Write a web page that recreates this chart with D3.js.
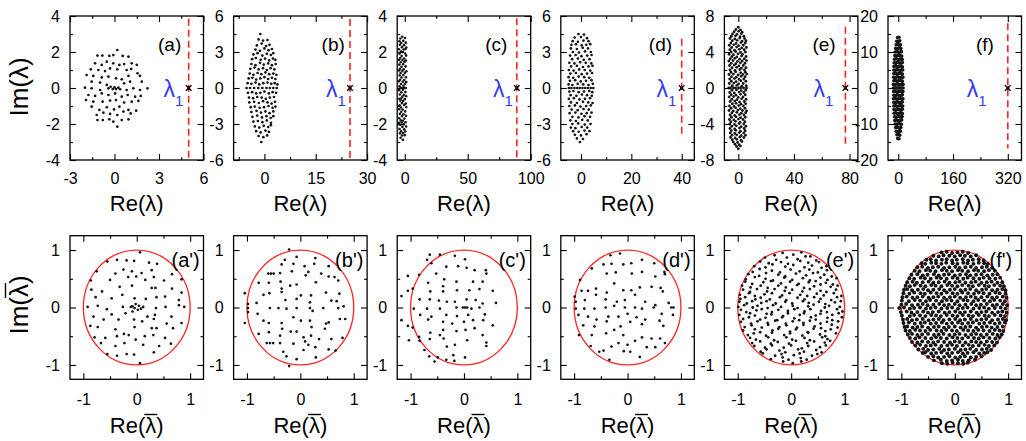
<!DOCTYPE html>
<html>
<head>
<meta charset="utf-8">
<script src="https://cdn.jsdelivr.net/npm/d3@7"></script>
<style>
  body { margin: 0; background: #fff; }
  svg text { font-family: "Liberation Sans", Arial, Helvetica, sans-serif; }
</style>
</head>
<body>
<svg id="chart" width="1026" height="441"></svg>
<script>
// ---------- eigenvalue spectra, top row: flat [Re, Im, Re, Im, ...] ----------
const eigA = [
  0.19,2.11, -1.15,1.8, -0.82,1.8, -0.35,1.78, -0.08,1.83, 0.55,1.78, 0.94,1.74,
  -1.31,1.37, -0.86,1.28, -0.52,1.46, -0.08,1.37, 0.33,1.28, 0.65,1.33, 1.16,1.37, 1.5,1.28,
  -1.6,1.04, -1.09,1.0, -0.64,0.94, -0.3,1.09, 0.19,1.04, 0.82,1.0, 1.12,1.06, 1.55,0.82,
  -1.88,0.72, -1.43,0.67, -0.86,0.59, -0.41,0.63, 0.1,0.54, 0.49,0.48, 0.94,0.67, 1.72,0.67,
  -1.54,0.35, -0.97,0.3, -0.52,0.17, 0.65,0.26, 1.05,0.35, 1.84,0.35,
  -1.99,0.02, -1.54,-0.02, -0.97,-0.11, -0.41,-0.02, -0.26,0.07, -0.12,-0.06, 0,0.04, 0.1,-0.06,
  0.26,0.02, 0.38,-0.07, 0.82,-0.11, 1.27,-0.02, 1.72,-0.11, 2.22,-0.02,
  -1.76,-0.39, -1.31,-0.44, -0.86,-0.3, -0.41,-0.39, 0.04,-0.3, 0.49,-0.48, 0.89,-0.39, 1.39,-0.48, 1.77,-0.44,
  -1.92,-0.67, -1.43,-0.76, -0.8,-0.76, -0.3,-0.7, 0.1,-0.67, 0.65,-0.81, 1.16,-0.76, 1.61,-0.72,
  -1.54,-1.04, -1.02,-1.22, -0.52,-1.07, -0.03,-1.19, 0.33,-1.04, 0.94,-1.22, 1.46,-1.26,
  -1.2,-1.5, -0.75,-1.37, -0.3,-1.44, 0.19,-1.5, 0.6,-1.31, 1.09,-1.41,
  -1.15,-1.78, -0.79,-1.78, -0.35,-1.74, -0.08,-1.87, 0.49,-1.78, 0.94,-1.74,
  0.19,-2.15
];
const eigB = [
  -1.2,4.5, -1.7,4.05, -0.4,3.95, 0.9,4.0, -2.2,3.55, -0.8,3.7, 0.5,3.5, 1.5,3.6,
  -2.6,3.2, -1.3,3.1, 0.0,3.3, 1.2,3.15, 2.2,3.25, -3.2,2.8, -2.0,2.9, -0.6,2.7, 0.7,2.85, 1.9,2.75, 2.6,2.9,
  -3.6,2.4, -2.5,2.5, -1.1,2.35, 0.2,2.45, 1.4,2.3, 2.5,2.45, 3.2,2.35,
  -3.8,2.0, -2.6,1.9, -1.3,2.1, -0.2,1.95, 1.1,2.05, 2.2,1.9, 3.3,2.0,
  -4.1,1.6, -2.9,1.7, -1.7,1.55, -0.4,1.65, 0.7,1.5, 1.8,1.65, 2.9,1.55,
  -4.3,1.2, -3.2,1.1, -2.0,1.25, -0.9,1.15, 0.3,1.3, 1.4,1.15, 2.6,1.2, 3.5,1.1,
  -4.6,0.8, -3.5,0.85, -2.4,0.7, -1.2,0.8, 0.0,0.9, 1.1,0.75, 2.2,0.85, 3.2,0.75,
  -4.9,0.4, -3.8,0.35, -2.6,0.45, -1.5,0.3, -0.3,0.4, 0.9,0.45, 2.0,0.35, 3.0,0.4, 3.8,0.3,
  -5.2,0, -4.2,0, -3.0,0, -1.8,0, -0.6,0, 0.6,0, 1.6,0, 2.6,0, 3.6,0,
  -4.8,-0.4, -3.6,-0.35, -2.4,-0.45, -1.2,-0.4, 0.0,-0.3, 1.3,-0.45, 2.4,-0.35, 3.4,-0.4,
  -4.5,-0.8, -3.3,-0.85, -2.1,-0.75, -0.8,-0.8, 0.4,-0.9, 1.6,-0.8, 2.8,-0.75,
  -4.4,-1.2, -3.0,-1.15, -1.6,-1.25, -0.4,-1.1, 0.9,-1.2, 2.1,-1.3, 3.1,-1.15,
  -4.0,-1.6, -2.8,-1.55, -1.4,-1.65, -0.1,-1.6, 1.2,-1.5, 2.4,-1.65, 3.2,-1.55,
  -3.8,-2.0, -2.3,-1.9, -1.0,-2.05, 0.3,-1.95, 1.5,-2.1, 2.6,-1.95,
  -3.5,-2.4, -2.1,-2.3, -0.7,-2.45, 0.6,-2.35, 1.8,-2.5, 2.6,-2.35,
  -3.2,-2.8, -1.9,-2.75, -0.6,-2.85, 0.7,-2.7, 1.9,-2.9,
  -2.8,-3.2, -1.5,-3.3, -0.2,-3.15, 1.1,-3.25, 1.9,-3.1, -2.4,-3.6, -1.1,-3.7, 0.3,-3.55, 1.3,-3.65,
  -1.7,-4.0, -0.3,-4.1, 0.8,-3.95, -0.9,-4.5
];
const eigC = [
  -2.0,2.85, -3.5,2.75, 0.2,2.78, -1.2,2.62, -4.2,2.6, -2.8,2.5, 0.8,2.52, -0.6,2.38, -3.9,2.4,
  -2.2,2.27, 1.2,2.25, -4.6,2.15, -0.9,2.14, 0.6,2.17, -3.0,2.02, -1.5,2.0, -4.1,1.9, 0.3,1.92,
  -2.4,1.78, 1.1,1.8, -3.6,1.66, -0.5,1.64, -1.8,1.55, 0.9,1.53, -4.5,1.56, -3.1,1.43, -0.2,1.45,
  -4.3,1.3, -1.3,1.32, -2.6,1.18, 0.7,1.2, -3.8,1.06, -0.8,1.04, -1.9,0.95, 1.3,0.93, -4.6,0.97,
  -3.3,0.83, 0.1,0.85, -4.0,0.7, -1.1,0.72, -2.5,0.58, 0.9,0.6, -3.7,0.46, -0.4,0.44, -1.6,0.35,
  1.2,0.33, -4.7,0.37, -2.9,0.22, 0.2,0.24, -4.2,0.1, -1.0,0.12, -3.3,0, -2.1,0, -0.5,0, 0.8,0,
  -4.5,-0.12, -1.5,-0.1, -2.7,-0.24, 0.5,-0.22, -3.9,-0.36, -0.7,-0.38, -1.9,-0.48, 1.1,-0.46,
  -4.3,-0.6, -2.9,-0.58, 0.0,-0.62, -1.3,-0.72, -3.5,-0.7, -2.3,-0.84, 0.8,-0.86, -4.1,-0.96,
  -0.5,-0.94, -3.0,-1.08, 1.2,-1.06, -1.7,-1.2, -4.6,-1.18, -2.8,-1.32, 0.3,-1.3, -3.9,-1.44,
  -1.0,-1.46, -2.2,-1.56, 1.0,-1.54, -4.4,-1.68, -0.3,-1.7, -3.2,-1.8, -1.5,-1.82, -2.4,-1.92,
  0.6,-1.9, -4.7,-1.94, -3.6,-2.04, -0.8,-2.02, -1.9,-2.16, 1.1,-2.14, -4.1,-2.28, -0.4,-2.3,
  -2.9,-2.4, 0.4,-2.42, -3.8,-2.52, -1.3,-2.5, -2.2,-2.64, 0.0,-2.62, -3.3,-2.76, -1.5,-2.88
];
const eigD = [
  -1.0,4.5, 1.2,4.45, -2.5,4.2, 0.0,4.25, 2.4,4.15, -3.3,3.9, -1.2,3.85, 1.0,3.95, 3.0,3.9,
  -3.8,3.6, -2.0,3.65, 0.3,3.55, 2.1,3.6, 3.7,3.65, -4.0,3.3, -1.6,3.25, 0.7,3.35, 2.8,3.3,
  -3.2,3.0, -0.8,2.95, 1.6,3.05, 3.9,3.0, -4.3,2.7, -2.1,2.75, 0.2,2.65, 2.5,2.7, 4.2,2.75,
  -3.5,2.4, -1.2,2.45, 1.1,2.35, 3.4,2.4, -4.6,2.1, -2.6,2.05, -0.3,2.15, 1.9,2.1, 4.1,2.05,
  -3.9,1.8, -1.6,1.85, 0.8,1.75, 3.0,1.8, 4.6,1.85, -4.8,1.5, -2.9,1.45, -0.7,1.55, 1.5,1.5, 3.7,1.45,
  -4.2,1.2, -2.0,1.25, 0.3,1.15, 2.4,1.2, 4.4,1.25, -4.9,0.9, -3.1,0.85, -0.9,0.95, 1.3,0.9, 3.3,0.85,
  -4.4,0.6, -2.3,0.65, -0.1,0.55, 2.0,0.6, 4.2,0.65, -4.9,0.3, -3.4,0.25, -1.3,0.35, 0.9,0.3, 3.0,0.25, 4.7,0.35,
  -4.8,0, -3.8,0, -2.6,0, -1.5,0, -0.5,0, 0.6,0, 1.7,0, 2.8,0, 3.9,0, 4.9,0,
  -4.6,-0.3, -3.0,-0.25, -0.9,-0.35, 1.2,-0.3, 3.3,-0.25, 4.5,-0.35, -4.1,-0.6, -1.8,-0.65, 0.4,-0.55, 2.4,-0.6, 4.3,-0.65,
  -4.8,-0.9, -2.8,-0.85, -0.6,-0.95, 1.6,-0.9, 3.6,-0.85, -4.0,-1.2, -1.6,-1.25, 0.8,-1.15, 2.9,-1.2, 4.6,-1.25,
  -4.6,-1.5, -2.4,-1.45, -0.2,-1.55, 2.1,-1.5, 3.9,-1.45, -3.7,-1.8, -1.3,-1.85, 1.0,-1.75, 3.1,-1.8,
  -4.5,-2.1, -2.2,-2.05, 0.2,-2.15, 2.3,-2.1, 4.2,-2.05, -3.4,-2.4, -1.0,-2.45, 1.4,-2.35, 3.6,-2.4,
  -4.2,-2.7, -2.0,-2.75, 0.5,-2.65, 2.7,-2.7, -3.4,-3.0, -1.1,-2.95, 1.5,-3.05, 3.8,-3.0,
  -4.0,-3.3, -2.2,-3.35, 0.3,-3.25, 2.5,-3.3, -3.1,-3.6, -0.9,-3.65, 1.4,-3.55, 3.4,-3.6,
  -2.4,-3.9, 0.0,-3.95, 2.2,-3.85, -1.6,-4.2, 0.8,-4.25, -0.4,-4.5
];
const eigE = [
  0.0,6.75, -1.8,6.5, 1.5,6.45, -3.0,6.25, 0.2,6.3, 2.8,6.2, -4.2,6.0, -1.0,5.95, 2.2,6.05,
  -5.0,5.75, -2.0,5.8, 1.3,5.7, 4.0,5.75, -6.0,5.5, -2.5,5.45, 1.0,5.55, 4.5,5.5,
  -4.3,5.25, -0.8,5.3, 2.7,5.2, 5.5,5.25, -5.4,5.0, -1.6,4.95, 1.9,5.05, 5.0,5.0,
  -6.5,4.75, -3.3,4.8, 0.2,4.7, 3.6,4.75, -4.8,4.5, -1.2,4.55, 2.4,4.45, 5.8,4.5,
  -6.1,4.25, -2.7,4.2, 0.7,4.3, 4.2,4.25, -5.0,4.0, -1.9,4.05, 1.6,3.95, 5.1,4.0,
  -6.6,3.75, -3.4,3.7, -0.2,3.8, 3.0,3.75, -4.6,3.5, -1.1,3.45, 2.3,3.55, 5.6,3.5,
  -5.8,3.25, -2.5,3.3, 0.9,3.2, 4.3,3.25, -6.8,3.0, -3.8,3.05, -0.6,2.95, 2.8,3.0, 5.9,3.05,
  -5.1,2.75, -1.8,2.7, 1.5,2.8, 4.8,2.75, -6.3,2.5, -2.9,2.55, 0.4,2.45, 3.6,2.5,
  -4.5,2.25, -1.2,2.3, 2.2,2.2, 5.5,2.25, -6.0,2.0, -2.4,1.95, 1.0,2.05, 4.4,2.0,
  -5.2,1.75, -1.9,1.8, 1.7,1.7, 5.0,1.75, -6.7,1.5, -3.5,1.55, -0.1,1.45, 3.2,1.5, 6.0,1.55,
  -4.9,1.25, -1.5,1.2, 2.0,1.3, 4.9,1.25, -6.2,1.0, -2.8,1.05, 0.6,0.95, 3.9,1.0,
  -5.0,0.75, -1.6,0.7, 1.8,0.8, 5.4,0.75, -6.5,0.5, -3.2,0.55, 0.2,0.45, 3.5,0.5,
  -4.4,0.25, -1.0,0.3, 2.5,0.2, 5.7,0.25,
  -6.9,0, -5.6,0, -3.5,0, -2.0,0, 0.1,0, 1.6,0, 3.8,0, 5.9,0,
  -4.6,-0.25, -1.3,-0.2, 2.1,-0.3, 5.3,-0.25, -6.2,-0.5, -2.9,-0.55, 0.6,-0.45, 3.9,-0.5,
  -5.1,-0.75, -1.7,-0.8, 1.6,-0.7, 5.0,-0.75, -6.6,-1.0, -3.4,-0.95, 0.0,-1.05, 3.4,-1.0,
  -4.7,-1.25, -1.0,-1.3, 2.4,-1.2, 5.6,-1.25, -5.9,-1.5, -2.6,-1.45, 0.9,-1.55, 4.3,-1.5,
  -4.3,-1.75, -1.6,-1.7, 1.9,-1.8, 5.2,-1.75, -6.4,-2.0, -3.1,-2.05, 0.3,-1.95, 3.6,-2.0,
  -5.2,-2.25, -1.9,-2.2, 1.4,-2.3, 4.8,-2.25, -6.7,-2.5, -3.6,-2.55, -0.3,-2.45, 3.0,-2.5, 5.9,-2.55,
  -4.6,-2.75, -1.1,-2.7, 2.2,-2.8, 5.3,-2.75, -5.9,-3.0, -2.6,-3.05, 0.8,-2.95, 4.1,-3.0,
  -4.9,-3.25, -1.6,-3.2, 1.7,-3.3, 5.0,-3.25, -6.4,-3.5, -3.2,-3.55, 0.1,-3.45, 3.4,-3.5,
  -5.3,-3.75, -2.0,-3.7, 1.3,-3.8, 4.7,-3.75, -6.1,-4.0, -2.8,-4.05, 0.6,-3.95, 3.9,-4.0,
  -4.7,-4.25, -1.4,-4.2, 2.1,-4.3, 5.4,-4.25, -6.0,-4.5, -2.6,-4.55, 0.8,-4.45, 4.2,-4.5,
  -5.0,-4.75, -1.8,-4.7, 1.6,-4.8, 4.9,-4.75, -5.8,-5.0, -2.6,-5.05, 0.7,-4.95, 3.9,-5.0,
  -4.5,-5.25, -1.2,-5.2, 2.1,-5.3, 5.2,-5.25, -5.6,-5.5, -2.3,-5.55, 1.0,-5.45, 4.0,-5.5,
  -4.3,-5.75, -1.1,-5.7, 2.0,-5.8, -3.6,-6.0, -0.5,-6.05, 2.6,-5.95,
  -2.4,-6.25, 0.6,-6.3, -1.3,-6.5, 1.5,-6.45, 0.0,-6.75
];
const eigF = [
  -2,14, 2,14.1, -4.5,13, 0,12.9, 4.5,13.1, -6,12, -1.5,12.1, 3,11.9, 6.5,12,
  -7.5,11, -2.5,10.9, 2.5,11.1, 7.5,11, -9,10, -4,10.1, 1,9.9, 6,10, 9,10.1,
  -10,9, -5,8.9, 0,9.1, 5,9, 10,8.9, -11,8, -6,8.1, -1,7.9, 4,8, 9,8.1, 11.5,7.9,
  -12,7, -7,6.9, -2,7.1, 3,7, 8,6.9, 12,7.1, -12.5,6, -8,6.1, -3,5.9, 2,6, 7,6.1, 12,5.9,
  -13,5, -9,4.9, -4,5.1, 1,5, 6,4.9, 11,5.1, 13,5, -13,4, -8,4.1, -3,3.9, 2,4, 7,4.1, 12,3.9,
  -13.5,3, -9,2.9, -4,3.1, 1,3, 6,2.9, 11,3.1, 13.5,3, -13,2, -8,2.1, -3,1.9, 2,2, 7,2.1, 12,1.9,
  -14,1, -9.5,0.9, -4.5,1.1, 0.5,1, 5.5,0.9, 10.5,1.1, 14,1,
  -14,0, -10,0, -6,0, -2,0, 2,0, 6,0, 10,0, 14,0,
  -13.5,-1, -9,-0.9, -4,-1.1, 1,-1, 6,-0.9, 11,-1.1, 13.5,-1, -13,-2, -8,-2.1, -3,-1.9, 2,-2, 7,-2.1, 12,-1.9,
  -14,-3, -9.5,-2.9, -4.5,-3.1, 0.5,-3, 5.5,-2.9, 10.5,-3.1, 13.5,-3, -13,-4, -8,-4.1, -3,-3.9, 2,-4, 7,-4.1, 12,-3.9,
  -13,-5, -9,-4.9, -4,-5.1, 1,-5, 6,-4.9, 11,-5.1, 13,-5, -12.5,-6, -7.5,-6.1, -2.5,-5.9, 2.5,-6, 7.5,-6.1, 12,-5.9,
  -12,-7, -7,-6.9, -2,-7.1, 3,-7, 8,-6.9, 12,-7.1, -11,-8, -6,-8.1, -1,-7.9, 4,-8, 9,-8.1, 11,-7.9,
  -10,-9, -5,-8.9, 0,-9.1, 5,-9, 10,-8.9, -9,-10, -4,-10.1, 1,-9.9, 6,-10, 9,-10.1,
  -7.5,-11, -2.5,-10.9, 2.5,-11.1, 7.5,-11, -6,-12, -1,-12.1, 4,-11.9, 6,-12,
  -4,-13, 0.5,-12.9, 4.5,-13.1, -1.5,-14, 2,-14.1
];

// outlier eigenvalue λ1 of each matrix, and vertical extent of its marker line
const lambda1 = [5, 25, 89, 40, 77, 320];
const lambda1Span = [[-4, 3.85], [-6, 5.75], [-4, 3.87], [-4.1, 4.1], [-6.5, 6.8], [-16.8, 18]];

// ---------- rescaled spectra, bottom row: flat [Re, Im, ...] in units of 0.01 ----------
const eigBarA = [
  6,96, -55,80, -37,83, -19,82, -5,81, 23,78, 38,76,
  -75,63, -40,59, -25,66, -9,63, 9,60, 28,65, 66,58,
  -86,47, -50,48, -16,53, -1,54, 16,48, 32,53, 51,47, 84,49,
  -85,31, -65,28, -32,36, -9,38, 28,34, 35,34, 66,33, 84,26,
  -77,18, -47,16, -27,22, -4,16, 17,15, 37,18, 53,19, 79,13,
  -92,1, -73,3, -56,-3, -26,1, -11,1, -4,-1, 4,3, 12,1, 36,-1, 54,1, 79,4, 89,1,
  -2,6, 2,-4, 8,-2, -8,2,
  -81,-16, -47,-12, -21,-10, -8,-7, 20,-16, 34,-13, 65,-16,
  -87,-32, -62,-21, -34,-21, -5,-21, 10,-24, 32,-20, 56,-28, 84,-27,
  -73,-34, -40,-38, -24,-46, -4,-34, 28,-36, 37,-36, 68,-36,
  -79,-52, -59,-53, -37,-50, -15,-48, 15,-50, 31,-48, 53,-53,
  -67,-62, -40,-67, -23,-62, -2,-56, 12,-65, 42,-67, 64,-63,
  -55,-81, -37,-84, -19,-81, -5,-82, 32,-78, 6,-97
];
const eigBarB = [
  -21,101, -29,83, -7,88, 28,86, -35,75, -13,76, 8,72, 26,76, 53,72,
  -60,59, -55,59, -50,59, -38,60, -16,63, 15,62, 10,56, 39,59, 64,53, 53,54,
  -78,43, -59,43, -37,45, -19,38, -7,40, 29,44, 71,47, -35,33,
  -69,22, -58,25, -35,27, 1,21, 20,21, 48,26, 73,24, -104,25,
  -82,8, -28,13, -7,15, 18,9, 58,12, 68,11,
  -98,6, -98,-1, -98,-8, -80,-11, -57,-1, -41,-1, -26,-2, -7,-1, 18,-1, 23,-6, 43,-1, 71,-1, 81,2, 84,-20,
  -104,-27, -69,-23, -59,-27, -35,-27, -13,-17, 1,-23, 18,-23, 48,-28, 53,-26, 74,-20,
  -34,-37, -18,-42, -7,-42, 21,-34, 46,-37,
  -78,-46, -59,-43, -38,-49, 6,-52, 20,-49, 35,-55, 58,-55, 79,-53,
  -63,-62, -57,-62, -51,-62, -38,-62, -13,-63, 9,-59, 15,-65, 53,-73, 66,-75,
  -32,-77, 6,-74, 28,-69, -26,-85, -7,-90, 29,-87, -21,-102
];
const eigBarC = [
  -64,92, -45,92, -17,90, 2,84, -69,83, -61,77, -33,71, -11,72, 5,69, 20,65, 41,65, 42,59,
  -105,55, -84,57, -52,59, -37,49, -14,45, 17,45, 35,45, -67,43,
  -96,33, -105,29, -117,20, -39,37, -39,28, -63,28, -13,30, 10,30, 29,32, 54,29,
  -83,14, -64,14, -47,12, -32,10, -17,10, 5,14, 22,13, 35,7, 60,8,
  -2,0, 2,0, 6,0, -94,-2, -69,-2, -45,-2, -14,0, 14,-2, 29,0,
  -82,-13, -61,-16, -33,-13, -13,-15, 8,-13, 39,-12,
  -117,-22, -105,-32, -96,-35, -67,-21, -39,-25, -22,-28, 0,-25, 17,-22, 36,-22, 54,-31,
  -63,-44, -39,-39, -14,-41, 3,-39, 20,-36, 35,-48,
  -84,-51, -103,-57, -83,-58, -64,-55, -45,-48, -38,-54, -17,-65, 6,-57, 42,-61, 42,-67,
  -32,-68, -65,-85, -49,-87, -20,-83, 2,-87, -55,-94, -33,-91, -18,-93, -74,-74
];
const eigBarD = [
  -32,91, -14,94, -45,75, -30,76, -8,75, 7,77, 27,83, 50,77, 69,62, 70,58,
  -89,48, -67,68, -39,59, -22,61, 8,59, 27,62, 52,54,
  -86,29, -74,29, -59,33, -39,26, -25,42, -8,30, 7,30, 23,35, 45,36, 62,34, 66,28,
  -99,19, -97,10, -80,13, -59,22, -41,14, -20,10, -5,13, 14,22, 33,10, 52,4, 77,8,
  -97,-2, -81,-2, -62,-2, -41,0, -25,3, -5,0, 14,0, 27,-2, 49,0, 82,0, 86,0,
  -92,-13, -74,-16, -58,-21, -36,-16, -17,-16, 0,-11, 17,-17, 33,-21, 64,-11, 85,-13,
  -83,-31, -62,-33, -39,-24, -25,-39, -13,-33, 5,-25, 27,-29, 60,-23, 67,-32,
  -91,-48, -67,-48, -40,-45, -8,-48, 27,-52, 45,-54, 61,-54, 70,-62,
  -69,-67, -45,-75, -30,-68, -17,-62, 0,-65, 14,-58, 36,-69, 52,-69,
  -34,-91, -7,-76, 5,-77, 23,-86, -53,-77
];
const eigBarE = [
  -31,91, -16,95, 4,92, 19,96, 36,89, -49,87, -28,83, -8,87, 12,84, 27,89, 47,82,
  -58,80, -42,77, -19,79, -6,76, 17,81, 32,78, 52,79, 66,72,
  -69,72, -48,70, -35,75, -11,71, 4,74, 25,70, 39,73, 57,69,
  -72,62, -59,67, -36,64, -21,61, -1,66, 16,63, 34,66, 50,61, 67,65,
  -80,58, -60,55, -47,60, -24,57, -11,54, 9,59, 28,56, 41,60, 62,57, 76,54,
  -85,49, -68,53, -48,50, -34,47, -13,52, 2,48, 22,51, 35,47, 55,52, 68,48, 85,51,
  -86,45, -73,41, -52,44, -38,46, -19,42, -2,45, 14,41, 33,44, 46,46, 65,43, 78,40,
  -92,38, -76,35, -57,38, -44,34, -24,38, -10,35, 11,39, 24,34, 43,37, 55,40, 74,36, 87,38,
  -90,31, -77,27, -64,32, -45,28, -31,32, -12,29, 2,31, 21,28, 35,32, 55,29, 66,27, 84,31,
  -96,22, -79,25, -68,20, -50,23, -36,25, -17,21, -3,25, 17,22, 30,20, 48,24, 61,21, 80,25, 94,20,
  -95,15, -86,18, -67,14, -57,17, -40,14, -21,18, -9,13, 12,17, 25,14, 43,18, 55,15, 75,13, 86,18,
  -97,10, -83,7, -73,11, -56,8, -46,11, -29,7, -11,10, 2,7, 22,11, 33,8, 52,10, 64,6, 82,9, 93,11,
  -99,1, -88,4, -72,0, -63,3, -44,-1, -34,4, -19,1, 3,3, 12,-1, 32,2, 42,5, 63,0, 71,3, 91,1,
  -94,-4, -84,-8, -65,-5, -55,-3, -36,-8, -24,-4, -6,-6, 6,-3, 25,-7, 36,-3, 56,-6, 67,-8, 86,-3, 96,-7,
  -97,-13, -77,-10, -68,-14, -46,-11, -37,-12, -15,-15, -6,-10, 16,-13, 24,-10, 46,-14, 55,-11, 77,-13, 89,-10,
  -90,-20, -79,-17, -58,-21, -48,-18, -26,-22, -17,-17, 6,-19, 15,-22, 37,-17, 46,-21, 68,-18, 77,-22, 95,-17,
  -94,-25, -75,-28, -63,-24, -44,-27, -30,-23, -10,-28, 3,-24, 23,-27, 35,-23, 55,-28, 67,-25, 88,-24,
  -87,-34, -74,-31, -55,-35, -43,-30, -22,-34, -9,-31, 11,-35, 23,-30, 44,-33, 56,-36, 76,-30, 87,-35,
  -90,-40, -68,-38, -58,-43, -35,-40, -24,-37, -2,-42, 9,-38, 31,-43, 42,-37, 64,-41, 74,-38,
  -81,-48, -70,-45, -47,-49, -36,-44, -13,-48, -2,-45, 21,-49, 32,-44, 54,-47, 64,-50, 84,-45,
  -77,-53, -66,-56, -43,-52, -32,-57, -9,-52, 2,-56, 25,-53, 35,-57, 58,-52, 68,-55,
  -73,-62, -58,-59, -38,-63, -25,-60, -4,-63, 9,-58, 30,-62, 43,-59, 63,-61, 73,-58,
  -69,-67, -49,-70, -36,-66, -14,-70, 0,-66, 20,-71, 32,-67, 54,-69, 65,-66,
  -57,-77, -46,-73, -22,-75, -11,-78, 13,-73, 24,-77, 47,-74, 57,-78,
  -53,-80, -30,-84, -18,-81, 5,-83, 16,-80, 39,-84, 49,-81,
  -38,-90, -16,-87, -5,-91, 18,-88, 29,-91, -15,-94, 3,-97, 19,-94
];
const eigBarF = [
  -25,96, -15,97, -5,95, 5,96, 15,97, 25,95,
  -40,90, -30,89, -21,91, -10,90, 0,89, 10,91, 19,90, 30,89, 40,91,
  -53,83, -45,84, -35,82, -24,83, -15,84, -5,82, 4,83, 15,84, 25,82, 34,83, 45,84, 54,82,
  -62,77, -55,76, -44,78, -35,77, -25,76, -16,78, -4,77, 5,76, 16,78, 24,77, 35,76, 45,78, 55,77, 62,76,
  -70,70, -61,71, -50,69, -41,70, -31,71, -20,69, -10,70, 1,71, 9,69, 20,70, 30,71, 40,69, 51,70, 60,71, 70,69,
  -75,64, -66,63, -54,65, -46,64, -36,63, -24,65, -15,64, -5,63, 6,65, 14,64, 25,63, 36,65, 44,64, 55,63, 64,65, 75,64,
  -81,57, -70,58, -60,56, -51,57, -39,58, -30,56, -20,57, -11,58, 0,56, 10,57, 21,58, 29,56, 40,57, 50,58, 61,56, 71,57, 80,58,
  -85,51, -76,50, -64,52, -56,51, -45,50, -34,52, -26,51, -15,50, -4,52, 5,51, 16,50, 24,52, 35,51, 46,50, 54,52, 65,51, 76,50, 85,52,
  -89,44, -79,45, -71,43, -60,44, -49,45, -40,43, -30,44, -19,45, -10,43, 1,44, 9,45, 20,43, 31,44, 39,45, 50,43, 60,44, 69,45, 80,43, 89,44,
  -92,38, -84,37, -75,39, -64,38, -55,37, -44,39, -36,38, -25,37, -14,39, -5,38, 5,37, 14,39, 26,38, 34,37, 45,39, 56,38, 64,37, 74,39, 85,38, 92,37,
  -95,31, -89,32, -80,30, -69,31, -59,32, -50,30, -40,31, -29,32, -20,30, -9,31, 0,32, 11,30, 20,31, 29,32, 40,30, 51,31, 59,32, 70,30, 80,31, 89,32, 95,30,
  -96,25, -85,24, -76,26, -64,25, -56,24, -45,26, -34,25, -25,24, -15,26, -4,25, 5,24, 14,26, 25,25, 36,24, 45,26, 54,25, 65,24, 76,26, 84,25, 95,24,
  -98,18, -90,19, -79,17, -70,18, -60,19, -49,17, -40,18, -31,19, -20,17, -9,18, 0,19, 10,17, 21,18, 30,19, 39,17, 50,18, 61,19, 70,17, 79,18, 90,19, 97,17,
  -99,12, -86,11, -75,13, -65,12, -54,11, -46,13, -35,12, -24,11, -15,13, -6,12, 5,11, 16,13, 24,12, 35,11, 44,13, 55,12, 66,11, 74,13, 85,12, 94,11,
  -100,5, -91,6, -80,4, -69,5, -60,6, -51,4, -40,5, -29,6, -20,4, -11,5, 0,6, 9,4, 20,5, 31,6, 40,4, 49,5, 60,6, 71,4, 79,5, 90,6, 98,4,
  -104,-1, -95,0, -84,-2, -76,-1, -65,0, -54,-2, -45,-1, -36,0, -25,-2, -14,-1, -5,0, 6,-2, 15,-1, 24,0, 35,-2, 46,-1, 55,0, 64,-2, 75,-1, 86,0, 95,-2,
  -101,-8, -90,-7, -81,-9, -70,-8, -59,-7, -50,-9, -41,-8, -30,-7, -19,-9, -10,-8, 1,-7, 10,-9, 19,-8, 30,-7, 41,-9, 50,-8, 59,-7, 70,-9, 81,-8, 89,-7, 97,-9,
  -99,-14, -84,-15, -76,-13, -65,-14, -55,-15, -44,-13, -35,-14, -26,-15, -15,-13, -4,-14, 5,-15, 15,-13, 26,-14, 34,-15, 45,-13, 56,-14, 64,-15, 75,-13, 86,-14, 94,-15,
  -97,-21, -89,-20, -80,-22, -71,-21, -60,-20, -49,-22, -40,-21, -30,-20, -21,-22, -10,-21, 1,-20, 10,-22, 19,-21, 30,-20, 41,-22, 50,-21, 59,-20, 70,-22, 81,-21, 90,-20, 96,-22,
  -96,-27, -86,-26, -75,-28, -64,-27, -56,-26, -45,-28, -35,-27, -24,-26, -15,-28, -5,-27, 6,-26, 14,-28, 25,-27, 34,-26, 46,-28, 55,-27, 66,-26, 75,-28, 84,-27, 94,-26,
  -94,-34, -89,-33, -79,-35, -70,-34, -61,-33, -50,-35, -39,-34, -30,-33, -20,-35, -11,-34, 0,-33, 11,-35, 20,-34, 29,-33, 40,-35, 51,-34, 60,-33, 69,-35, 80,-34, 90,-33,
  -92,-40, -84,-41, -74,-39, -65,-40, -55,-41, -46,-39, -34,-40, -25,-41, -16,-39, -5,-40, 4,-41, 16,-39, 25,-40, 35,-41, 44,-39, 54,-40, 65,-41, 75,-39, 84,-40, 91,-41,
  -88,-47, -80,-46, -70,-48, -61,-47, -50,-46, -39,-48, -30,-47, -21,-46, -10,-48, 0,-47, 9,-46, 20,-48, 31,-47, 40,-46, 49,-48, 60,-47, 71,-46, 80,-48, 88,-47,
  -84,-53, -74,-54, -66,-52, -55,-53, -44,-54, -35,-52, -26,-53, -15,-54, -4,-52, 5,-53, 14,-54, 25,-52, 36,-53, 45,-54, 54,-52, 65,-53, 76,-54, 84,-52,
  -80,-60, -70,-61, -61,-59, -50,-60, -40,-61, -31,-59, -20,-60, -9,-61, 0,-59, 9,-60, 20,-61, 31,-59, 40,-60, 49,-61, 60,-59, 70,-60, 79,-61,
  -74,-66, -65,-65, -54,-67, -45,-66, -36,-65, -25,-67, -14,-66, -5,-65, 4,-67, 15,-66, 26,-65, 34,-67, 45,-66, 56,-65, 64,-67, 74,-66,
  -68,-73, -59,-72, -50,-74, -40,-73, -29,-72, -20,-74, -11,-73, 0,-72, 11,-74, 20,-73, 29,-72, 40,-74, 51,-73, 60,-72, 68,-74,
  -60,-79, -55,-78, -44,-80, -35,-79, -25,-78, -14,-80, -5,-79, 6,-78, 15,-80, 24,-79, 35,-78, 46,-80, 55,-79, 61,-78,
  -50,-86, -40,-85, -31,-87, -20,-86, -10,-85, 1,-87, 10,-86, 19,-85, 30,-87, 40,-86, 50,-85,
  -39,-92, -26,-91, -15,-93, -5,-92, 6,-91, 15,-93, 26,-92, 38,-91,
  -24,-97, -14,-98, -4,-96, 6,-97, 16,-98, 24,-96
];

// ---------- axes ----------
const topXDomain = [[-3, 6], [-9, 30], [-6, 100], [-8, 45], [-10, 86], [-30, 360]];
const topYDomain = [[-4, 4], [-6, 6], [-4, 4], [-6, 6], [-8, 8], [-20, 20]];
const topXMajor = [[-3, 0, 3, 6], [0, 15, 30], [0, 50, 100], [0, 20, 40], [0, 40, 80], [0, 160, 320]];
const topXMinor = [[-1.5, 1.5, 4.5], [-7.5, 7.5, 22.5], [25, 75], [10, 30], [20, 60], [80, 240]];
const topYMajor = [[-4, -2, 0, 2, 4], [-6, -3, 0, 3, 6], [-4, -2, 0, 2, 4], [-6, -3, 0, 3, 6], [-8, -4, 0, 4, 8], [-20, -10, 0, 10, 20]];
const topYMinor = [[-3, -1, 1, 3], [-4.5, -1.5, 1.5, 4.5], [-3, -1, 1, 3], [-4.5, -1.5, 1.5, 4.5], [-6, -2, 2, 6], [-15, -5, 5, 15]];
const barDomain = [-1.25, 1.25];
const barMajor = [-1, 0, 1];
const barMinor = [-0.5, 0.5];

const topTags = ["(a)", "(b)", "(c)", "(d)", "(e)", "(f)"];
const barTags = ["(a')", "(b')", "(c')", "(d')", "(e')", "(f')"];

// ---------- layout ----------
const colX0 = 70, colStep = 163.6, panelW = 133.5;
const topY = 16, topH = 144;
const botY = 235.7, botH = 143.6;
const lambdaLabelX = [3.3, 18, 70, 30, 54, 200];   // data x where the λ1 label starts
const dotR = [1.35, 1.35, 1.3, 1.35, 1.4, 1.8];
const barDotR = [1.35, 1.35, 1.35, 1.35, 1.4, 1.95];
const FONT = '"Liberation Sans", Arial, Helvetica, sans-serif';
const RED = "#ff2222";
const BLUE = "#3838f0";

const topData = [eigA, eigB, eigC, eigD, eigE, eigF];
const barData = [eigBarA, eigBarB, eigBarC, eigBarD, eigBarE, eigBarF];

function toPoints(flat, unit) {
  const pts = [];
  for (let i = 0; i < flat.length; i += 2) pts.push([flat[i] * unit, flat[i + 1] * unit]);
  return pts;
}

const fmt = d => String(d);
const svg = d3.select("#chart");

function drawAxes(g, x, y, w, h, o) {
  const style = sel => {
    sel.select(".domain").remove();
    sel.selectAll("line").attr("stroke", "#000").attr("stroke-width", 1.1);
    sel.selectAll("text").attr("font-size", 16).attr("font-family", FONT).attr("fill", "#000");
  };
  g.append("g").attr("transform", `translate(0,${h})`)
    .call(d3.axisBottom(x).tickValues(o.xMajor).tickSize(-6).tickPadding(o.xPad).tickFormat(fmt)).call(style);
  g.append("g").attr("transform", `translate(0,${h})`)
    .call(d3.axisBottom(x).tickValues(o.xMinor).tickSize(-3).tickFormat("")).call(style);
  g.append("g").call(d3.axisTop(x).tickValues(o.xMajor).tickSize(-6).tickFormat("")).call(style);
  g.append("g").call(d3.axisTop(x).tickValues(o.xMinor).tickSize(-3).tickFormat("")).call(style);
  g.append("g")
    .call(d3.axisLeft(y).tickValues(o.yMajor).tickSize(-6).tickPadding(10).tickFormat(fmt)).call(style);
  g.append("g").call(d3.axisLeft(y).tickValues(o.yMinor).tickSize(-3).tickFormat("")).call(style);
  g.append("g").attr("transform", `translate(${w},0)`)
    .call(d3.axisRight(y).tickValues(o.yMajor).tickSize(-6).tickFormat("")).call(style);
  g.append("g").attr("transform", `translate(${w},0)`)
    .call(d3.axisRight(y).tickValues(o.yMinor).tickSize(-3).tickFormat("")).call(style);
  g.append("rect").attr("width", w).attr("height", h)
    .attr("fill", "none").attr("stroke", "#000").attr("stroke-width", 1.3);
}

// axis title with an optional bar over the λ (4th character)
function axisTitle(parent, str, opts) {
  const g = parent.append("g").attr("transform", opts.transform);
  const t = g.append("text").attr("text-anchor", "middle")
    .attr("font-family", FONT).attr("font-size", opts.size).attr("fill", "#000").text(str);
  if (opts.bar) {
    const ext = t.node().getExtentOfChar(3);
    g.append("line")
      .attr("x1", ext.x - 1).attr("x2", ext.x + ext.width + 1)
      .attr("y1", ext.y + 1.5).attr("y2", ext.y + 1.5)
      .attr("stroke", "#000").attr("stroke-width", 1.4);
  }
}

// ---------- top row: full spectra ----------
topData.forEach((flat, i) => {
  const left = colX0 + i * colStep;
  const g = svg.append("g").attr("transform", `translate(${left},${topY})`);
  const x = d3.scaleLinear().domain(topXDomain[i]).range([0, panelW]);
  const y = d3.scaleLinear().domain(topYDomain[i]).range([topH, 0]);

  g.append("g").selectAll("circle").data(toPoints(flat, 1)).join("circle")
    .attr("cx", d => x(d[0])).attr("cy", d => y(d[1])).attr("r", dotR[i]).attr("fill", "#151515");

  const lx = x(lambda1[i]);
  g.append("line").attr("x1", lx).attr("x2", lx)
    .attr("y1", y(lambda1Span[i][1])).attr("y2", y(lambda1Span[i][0]))
    .attr("stroke", RED).attr("stroke-width", 1.6).attr("stroke-dasharray", "7,4");
  g.append("path").attr("d", d3.symbol(d3.symbolTimes, 22)())
    .attr("transform", `translate(${lx},${y(0)})`).attr("stroke", "#000").attr("stroke-width", 1.3).attr("fill", "none");
  g.append("circle").attr("cx", lx).attr("cy", y(0)).attr("r", 1.5).attr("fill", "#000");

  drawAxes(g, x, y, panelW, topH, {
    xMajor: topXMajor[i], xMinor: topXMinor[i], yMajor: topYMajor[i], yMinor: topYMinor[i], xPad: 12.7
  });

  g.append("text").attr("x", panelW - 45.5).attr("y", 35)
    .attr("font-family", FONT).attr("font-size", 19).attr("fill", "#000").text(topTags[i]);

  const lab = g.append("text").attr("x", x(lambdaLabelX[i])).attr("y", y(0) + 9)
    .attr("font-family", FONT).attr("font-size", 23).attr("fill", BLUE).text("λ");
  lab.append("tspan").attr("dy", 9).attr("font-size", 15).text("1");

  axisTitle(svg, "Re(λ)", { transform: `translate(${left + panelW / 2},211)`, size: 22, bar: false });
});

// ---------- bottom row: rescaled spectra inside the unit circle ----------
barData.forEach((flat, i) => {
  const left = colX0 + i * colStep;
  const g = svg.append("g").attr("transform", `translate(${left},${botY})`);
  const x = d3.scaleLinear().domain(barDomain).range([0, panelW]);
  const y = d3.scaleLinear().domain(barDomain).range([botH, 0]);

  g.append("ellipse").attr("cx", x(0)).attr("cy", y(0))
    .attr("rx", x(1) - x(0)).attr("ry", y(0) - y(1))
    .attr("fill", "none").attr("stroke", RED).attr("stroke-width", 1.3);

  g.append("g").selectAll("circle").data(toPoints(flat, 0.01)).join("circle")
    .attr("cx", d => x(d[0])).attr("cy", d => y(d[1])).attr("r", barDotR[i]).attr("fill", "#151515");

  drawAxes(g, x, y, panelW, botH, {
    xMajor: barMajor, xMinor: barMinor, yMajor: barMajor, yMinor: barMinor, xPad: 14
  });

  g.append("text").attr("x", panelW - 32).attr("y", 31.3)
    .attr("font-family", FONT).attr("font-size", 20).attr("fill", "#000").text(barTags[i]);

  axisTitle(svg, "Re(λ)", { transform: `translate(${left + panelW / 2},433)`, size: 22, bar: true });
});

// y titles
axisTitle(svg, "Im(λ)", { transform: "translate(28,87) rotate(-90)", size: 26, bar: false });
axisTitle(svg, "Im(λ)", { transform: "translate(28,305) rotate(-90)", size: 26, bar: true });
</script>
</body>
</html>
